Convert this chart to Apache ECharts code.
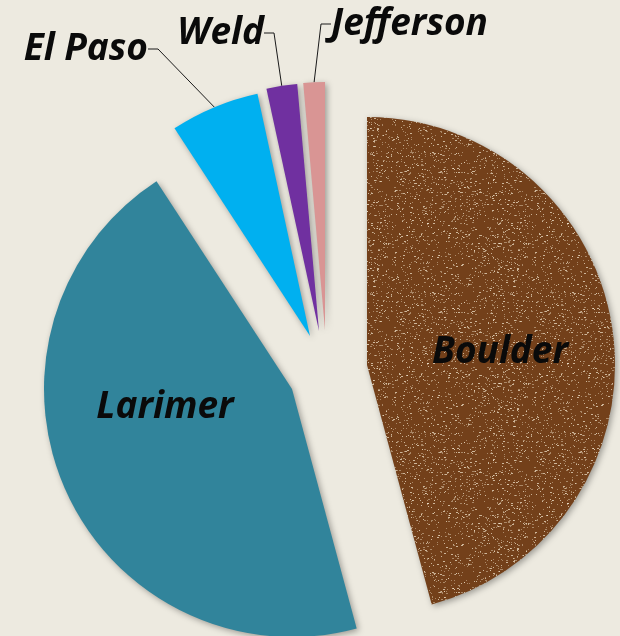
<!DOCTYPE html>
<html>
<head>
<meta charset="utf-8">
<script src="https://cdn.jsdelivr.net/npm/echarts@6/dist/echarts.min.js"></script>
<style>
  html, body { margin: 0; background: #edeae0; }
  #chart { width: 620px; height: 636px; }
</style>
</head>
<body>
<div id="chart"></div>
<script>
var counties = ['Boulder', 'Larimer', 'El Paso', 'Weld', 'Jefferson'];
var shares = [45.8, 45.0, 5.8, 2.0, 1.4];

var colors = ['#73401a', '#31849b', '#00b0f0', '#7030a0', '#d99594'];
// every slice is its own pie so each one can be pulled out by its own amount
var centers = [[367, 365], [292, 389], [310, 336], [319, 331], [325, 330]];
// label anchor [x, y, align]; first two sit inside their slice
var labelSpots = [[500, 352, 'center'], [165, 407, 'center'], [148, 49, 'right'], [264, 33, 'right'], [331, 24, 'left']];

// worn brown texture for Boulder
function speckle (base) {
  var c = document.createElement('canvas')
  c.width = c.height = 140
  var g = c.getContext('2d')
  g.fillStyle = base
  g.fillRect(0, 0, 140, 140)
  var s = 11
  for (var k = 0; k < 1500; k++) {
    s = (s * 16807) % 2147483647
    var x = s % 140
    s = (s * 16807) % 2147483647
    var y = s % 140
    g.fillStyle = k % 3 ? 'rgba(238,222,196,0.45)' : 'rgba(245,232,210,0.7)'
    g.fillRect(x, y, k % 4 ? 1 : 2, 1)
  }
  return c
}

var textStyle = {
  fontFamily: '"Open Sans", "DejaVu Sans", sans-serif',
  fontStyle: 'italic',
  fontWeight: 'bold',
  fontSize: 37,
  color: '#0a0a0a'
}

var series = counties.map(function (name, i) {
  var outside = i >= 2
  return {
    type: 'pie',
    center: centers[i],
    radius: 248,
    startAngle: 90,
    clockwise: true,
    avoidLabelOverlap: false,
    emphasis: { disabled: true },
    label: Object.assign({ position: outside ? 'outside' : 'inside' }, textStyle),
    labelLine: {
      length: 25,
      length2: 10,
      lineStyle: { color: '#1a1a1a', width: 1 }
    },
    labelLayout: function () {
      return {
        x: labelSpots[i][0],
        y: labelSpots[i][1],
        align: labelSpots[i][2],
        verticalAlign: 'middle'
      }
    },
    data: counties.map(function (n, j) {
      var mine = j === i
      return {
        name: n,
        value: shares[j],
        itemStyle: mine ? {
          color: j === 0 ? { image: speckle(colors[j]), repeat: 'repeat' } : colors[j],
          shadowBlur: 6,
          shadowColor: 'rgba(0,0,0,0.35)',
          shadowOffsetX: 2,
          shadowOffsetY: 2
        } : { color: 'rgba(0,0,0,0)' },
        label: { show: mine },
        labelLine: { show: mine && outside }
      }
    })
  }
})

var chart = echarts.init(document.getElementById('chart'))
chart.setOption({
  backgroundColor: '#edeae0',
  animation: false,
  series: series
})
</script>
</body>
</html>
